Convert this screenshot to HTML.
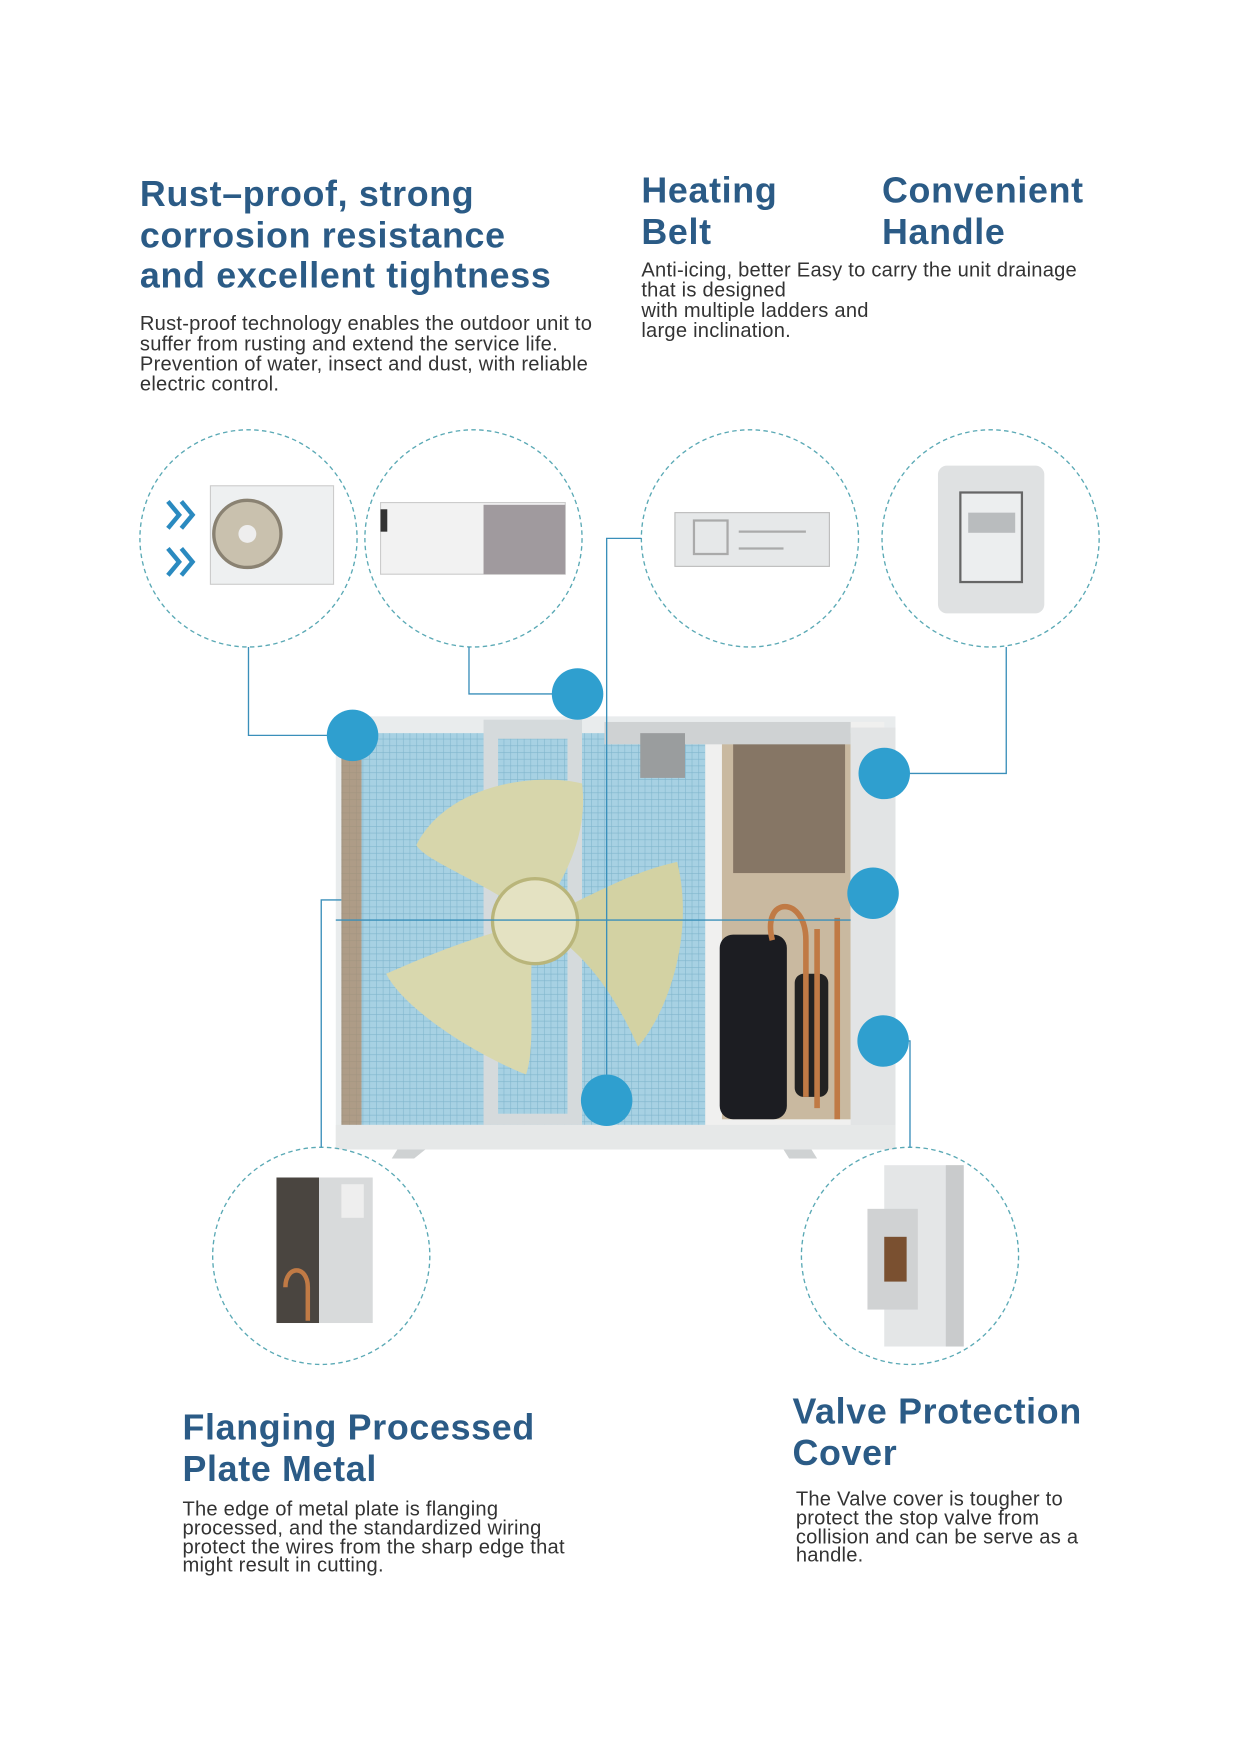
<!DOCTYPE html>
<html><head><meta charset="utf-8"><style>
html,body{margin:0;padding:0;background:#fff;width:1241px;height:1755px;overflow:hidden}
#s{position:absolute;left:0;top:0;width:1110px;height:1570px;transform:scale(1.1193,1.1193);transform-origin:0 0}
.h{position:absolute;font-family:"Liberation Sans",sans-serif;font-weight:bold;font-size:32px;line-height:36.5px;color:#2b5b86;letter-spacing:0.6px;white-space:nowrap}
.b{position:absolute;font-family:"Liberation Sans",sans-serif;font-size:18px;line-height:18px;color:#333;white-space:nowrap;letter-spacing:0.2px}
svg{position:absolute;left:0;top:0}
</style></head><body><div id="s">
<svg width="1110" height="1570" viewBox="0 0 1110 1570">
<defs>
<pattern id="grid" width="6" height="6" patternUnits="userSpaceOnUse"><rect width="6" height="6" fill="#a7d1e3"/><path d="M0 0H6M0 0V6" stroke="#7fb5cc" stroke-width="1"/></pattern>
</defs>
<rect x="300" y="640" width="500" height="385" fill="#e9eced"/>
<rect x="305" y="655" width="330" height="350" fill="url(#grid)"/>
<rect x="305" y="655" width="18" height="350" fill="#b08660" opacity="0.7"/>
<rect x="432" y="643" width="88" height="362" fill="#d5dadc"/>
<rect x="445" y="660" width="62" height="335" fill="url(#grid)"/>
<path d="M478 823 C440 790 380 770 372 755 C400 700 480 690 520 700 C525 740 510 780 478 823Z" fill="#d7d6ab"/>
<path d="M478 823 C530 800 560 780 605 770 C620 830 600 900 570 935 C545 880 520 850 478 823Z" fill="#d3d2a3"/>
<path d="M478 823 C470 880 480 930 470 960 C420 940 360 900 345 870 C390 850 430 835 478 823Z" fill="#d9d8ae"/>
<circle cx="478" cy="823" r="38" fill="#e4e2c2" stroke="#b9b57a" stroke-width="3"/>
<rect x="630" y="645" width="160" height="365" fill="#f0f0ef"/>
<rect x="645" y="655" width="115" height="345" fill="#c9b9a0"/>
<rect x="655" y="660" width="100" height="120" fill="#5a4a3e" opacity="0.6"/>
<rect x="540" y="645" width="220" height="20" fill="#cfd2d3"/>
<rect x="572" y="655" width="40" height="40" fill="#9a9d9e"/>
<rect x="643" y="835" width="60" height="165" rx="12" fill="#1c1d22"/>
<rect x="710" y="870" width="30" height="110" rx="8" fill="#222"/>
<path d="M690 840 C680 800 720 800 720 840 V980 M730 830 V990 M748 820 V1000" stroke="#c07a45" stroke-width="5" fill="none"/>
<rect x="760" y="650" width="40" height="360" fill="#e2e4e5"/>
<rect x="300" y="1005" width="500" height="22" fill="#e6e8e8"/>
<polygon points="355,1027 380,1027 370,1035 350,1035" fill="#cfd2d3"/>
<polygon points="700,1027 725,1027 730,1035 705,1035" fill="#cfd2d3"/>
<g fill="none" stroke="#5aa9b5" stroke-width="1.2" stroke-dasharray="4 3">
<circle cx="222" cy="481" r="97"/><circle cx="423" cy="481" r="97"/><circle cx="670" cy="481" r="97"/><circle cx="885" cy="481" r="97"/>
<circle cx="287" cy="1122" r="97"/><circle cx="813" cy="1122" r="97"/>
</g>
<path d="M150 448l10 12-10 12M162 448l10 12-10 12M150 490l10 12-10 12M162 490l10 12-10 12" stroke="#2a8ac0" stroke-width="4" fill="none"/>
<rect x="188" y="434" width="110" height="88" fill="#eef0f1" stroke="#ccc"/>
<circle cx="221" cy="477" r="30" fill="#c9c1ae" stroke="#8a8272" stroke-width="3"/>
<circle cx="221" cy="477" r="8" fill="#eee"/>
<rect x="340" y="449" width="165" height="64" fill="#f2f2f2" stroke="#ccc"/>
<rect x="432" y="451" width="73" height="62" fill="#a09a9e"/>
<rect x="340" y="455" width="6" height="20" fill="#333"/>
<rect x="603" y="458" width="138" height="48" fill="#e6e8e9" stroke="#bbb"/>
<path d="M620 465h30v30h-30zM660 475h60M660 490h40" stroke="#aaa" fill="none" stroke-width="2"/>
<rect x="838" y="416" width="95" height="132" rx="8" fill="#dfe1e2"/>
<rect x="858" y="440" width="55" height="80" fill="#eceeef" stroke="#666" stroke-width="2"/>
<rect x="865" y="458" width="42" height="18" fill="#b9bcbe"/>
<rect x="247" y="1052" width="86" height="130" fill="#d8dadb"/>
<rect x="247" y="1052" width="38" height="130" fill="#4a4540"/>
<path d="M255 1150 C255 1130 275 1130 275 1150 V1180" stroke="#c07a45" stroke-width="4" fill="none"/>
<rect x="305" y="1058" width="20" height="30" fill="#eee"/>
<rect x="790" y="1041" width="71" height="162" fill="#e4e6e7"/>
<rect x="845" y="1041" width="16" height="162" fill="#c9cbcc"/>
<rect x="775" y="1080" width="45" height="90" fill="#d0d2d3"/>
<rect x="790" y="1105" width="20" height="40" fill="#7a5030"/>
<g stroke="#3a8fba" stroke-width="1.2" fill="none">
<path d="M222 578V657H300"/>
<path d="M419 578V620H500"/>
<path d="M573 481H542V983"/>
<path d="M899 578V691H800"/>
<path d="M287 1025V804H305"/>
<path d="M300 822H760"/>
<path d="M813 1025V930H800"/>
</g>
<g fill="#2f9fcf">
<circle cx="315" cy="657" r="23"/><circle cx="516" cy="620" r="23"/><circle cx="790" cy="691" r="23"/>
<circle cx="780" cy="798" r="23"/><circle cx="789" cy="930" r="23"/><circle cx="542" cy="983" r="23"/>
</g>
</svg>
<div class="h" style="left:125px;top:155px">Rust–proof, strong<br>corrosion resistance<br>and excellent tightness</div>
<div class="b" style="left:125px;top:280px">Rust-proof technology enables the outdoor unit to<br>suffer from rusting and extend the service life.<br>Prevention of water, insect and dust, with reliable<br>electric control.</div>
<div class="h" style="left:573px;top:152px">Heating<br>Belt</div>
<div class="h" style="left:788px;top:152px">Convenient<br>Handle</div>
<div class="b" style="left:573px;top:232px">Anti-icing, better Easy to carry the unit drainage<br>that is designed<br>with multiple ladders and<br>large inclination.</div>
<div class="h" style="left:163px;top:1257px">Flanging Processed<br>Plate Metal</div>
<div class="b" style="left:163px;top:1340px;line-height:16.8px">The edge of metal plate is flanging<br>processed, and the standardized wiring<br>protect the wires from the sharp edge that<br>might result in cutting.</div>
<div class="h" style="left:708px;top:1243px">Valve Protection<br>Cover</div>
<div class="b" style="left:711px;top:1331px;line-height:16.8px">The Valve cover is tougher to<br>protect the stop valve from<br>collision and can be serve as a<br>handle.</div>
</div></body></html>
